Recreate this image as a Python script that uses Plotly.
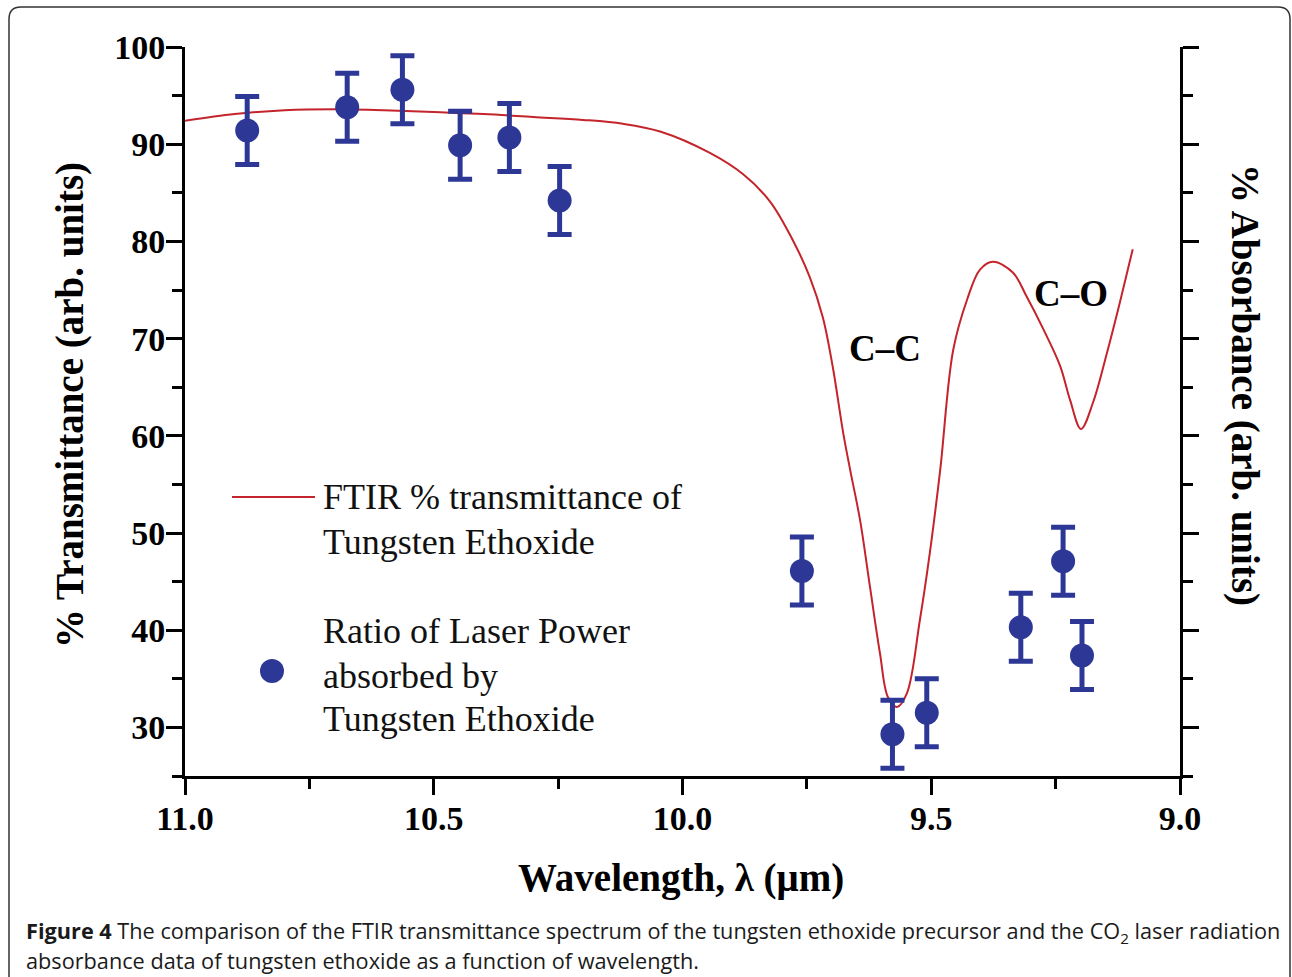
import plotly.graph_objects as go

# ---------------- data ----------------
ftir_wavelength = [11.00, 10.90, 10.80, 10.70, 10.60, 10.50, 10.40, 10.30, 10.20, 10.12,
                   10.045, 9.945, 9.878, 9.824, 9.778, 9.744, 9.718, 9.698, 9.677, 9.663,
                   9.643, 9.623, 9.603, 9.587, 9.569, 9.549, 9.523, 9.503, 9.482, 9.456,
                   9.428, 9.402, 9.376, 9.336, 9.308, 9.275, 9.241, 9.221, 9.199, 9.175,
                   9.147, 9.121, 9.095]
ftir_transmittance = [92.4, 93.1, 93.5, 93.6, 93.5, 93.3, 93.1, 92.8, 92.5, 92.1,
                      91.3, 89.1, 86.9, 84.1, 80.1, 76.3, 72.2, 67.1, 60.3, 56.5,
                      51.3, 44.4, 37.6, 33.1, 32.1, 33.5, 41.0, 47.9, 56.5, 68.8,
                      74.0, 77.1, 77.9, 76.8, 74.3, 71.0, 67.2, 63.7, 60.7, 63.4,
                      68.5, 73.7, 79.2]

laser_wavelength = [10.875, 10.674, 10.563, 10.447, 10.348, 10.247,
                    9.760, 9.578, 9.509, 9.320, 9.235, 9.197]
laser_absorbed = [91.4, 93.8, 95.6, 89.9, 90.7, 84.2,
                  46.1, 29.3, 31.5, 40.3, 47.1, 37.4]
laser_error = [3.5, 3.5, 3.5, 3.5, 3.5, 3.5,
               3.5, 3.5, 3.5, 3.5, 3.5, 3.5]

x_tick_values = [11.0, 10.5, 10.0, 9.5, 9.0]
x_tick_labels = ["11.0", "10.5", "10.0", "9.5", "9.0"]
y_tick_values = [30, 40, 50, 60, 70, 80, 90, 100]
y_tick_labels = ["30", "40", "50", "60", "70", "80", "90", "100"]

# ---------------- layout geometry ----------------
W, H = 1292, 977
L, R, T, B = 185, 1180, 47, 776  # plot area in pixels


def px(x):
    return (x - L) / (R - L)


def py(y):
    return (B - y) / (B - T)


SERIF = "Liberation Serif"
BLUE = "#2d3796"
RED = "#c4242b"

fig = go.Figure()

fig.add_trace(go.Scatter(
    x=ftir_wavelength, y=ftir_transmittance, mode="lines",
    line=dict(color=RED, width=2, shape="spline", smoothing=1.0),
    showlegend=False, hoverinfo="skip"))

fig.add_trace(go.Scatter(
    x=laser_wavelength, y=laser_absorbed, mode="markers",
    marker=dict(color=BLUE, size=24, symbol="circle"),
    error_y=dict(type="data", array=laser_error, color=BLUE, thickness=5, width=12),
    showlegend=False, hoverinfo="skip"))

axis_common = dict(showline=True, linecolor="black", linewidth=3,
                   ticks="outside", tickcolor="black", tickwidth=3, ticklen=16,
                   showgrid=False, zeroline=False)

fig.update_xaxes(range=[11.0, 9.0], tickvals=x_tick_values, ticktext=x_tick_labels,
                 tickfont=dict(family=SERIF, size=34, color="black", weight="bold"),
                 ticklabelstandoff=-6,
                 minor=dict(dtick=0.25, tick0=9.0, ticks="outside", ticklen=10,
                            tickwidth=3, tickcolor="black"),
                 **axis_common)
fig.update_yaxes(range=[25, 100], tickvals=y_tick_values, ticktext=y_tick_labels,
                 tickfont=dict(family=SERIF, size=34, color="black", weight="bold"),
                 ticklabelstandoff=-6,
                 minor=dict(dtick=5, tick0=0, ticks="outside", ticklen=10,
                            tickwidth=3, tickcolor="black"),
                 mirror="ticks", **axis_common)

title_font = dict(family=SERIF, size=39, color="black", weight="bold")
label_font = dict(family=SERIF, size=37, color="black", weight="bold")
legend_font = dict(family=SERIF, size=36, color="#111111")
caption_font = dict(family="Open Sans", size=21.7, color="#1a1a1a")

annotations = [
    dict(text="Wavelength, λ (μm)", x=px(681), y=py(878), font=title_font),
    dict(text="% Transmittance (arb. units)", x=px(70), y=py(405), textangle=-90, font=title_font),
    dict(text="% Absorbance (arb. units)", x=px(1245), y=py(385), textangle=90, font=title_font),
    dict(text="C–C", x=px(885), y=py(348), font=label_font),
    dict(text="C–O", x=px(1071), y=py(293), font=label_font),
    dict(text="FTIR % transmittance of", x=px(321), y=py(497), xanchor="left", font=legend_font),
    dict(text="Tungsten Ethoxide", x=px(321), y=py(542), xanchor="left", font=legend_font),
    dict(text="Ratio of Laser Power", x=px(321), y=py(631), xanchor="left", font=legend_font),
    dict(text="absorbed by", x=px(321), y=py(676), xanchor="left", font=legend_font),
    dict(text="Tungsten Ethoxide", x=px(321), y=py(719), xanchor="left", font=legend_font),
    dict(text="<b>Figure 4</b> The comparison of the FTIR transmittance spectrum of the tungsten "
              "ethoxide precursor and the CO<sub>2</sub> laser radiation",
         x=px(24), y=py(932), xanchor="left", font=caption_font),
    dict(text="absorbance data of tungsten ethoxide as a function of wavelength.",
         x=px(24), y=py(960), xanchor="left", font=caption_font),
]
for a in annotations:
    a.setdefault("xanchor", "center")
    a.update(xref="paper", yref="paper", yanchor="middle", showarrow=False, align="left")
fig.update_layout(annotations=annotations)

# legend symbols and figure frame
r = 12
frame = (f"M {px(9)} {py(995)} L {px(9)} {py(7 + r)} Q {px(9)} {py(7)} {px(9 + r)} {py(7)} "
         f"L {px(1290 - r)} {py(7)} Q {px(1290)} {py(7)} {px(1290)} {py(7 + r)} L {px(1290)} {py(995)}")
shapes = [
    dict(type="line", xref="paper", yref="paper", x0=px(232), x1=px(315), y0=py(497), y1=py(497),
         line=dict(color=RED, width=2)),
    dict(type="circle", xref="paper", yref="paper", x0=px(260), x1=px(284), y0=py(683), y1=py(659),
         fillcolor=BLUE, line=dict(color=BLUE, width=0)),
    dict(type="path", xref="paper", yref="paper", path=frame, line=dict(color="#333333", width=1.5)),
]
fig.update_layout(shapes=shapes)

fig.update_layout(width=W, height=H, margin=dict(l=L, r=W - R, t=T, b=H - B),
                  paper_bgcolor="white", plot_bgcolor="white", showlegend=False)

fig.write_html("out.html")
